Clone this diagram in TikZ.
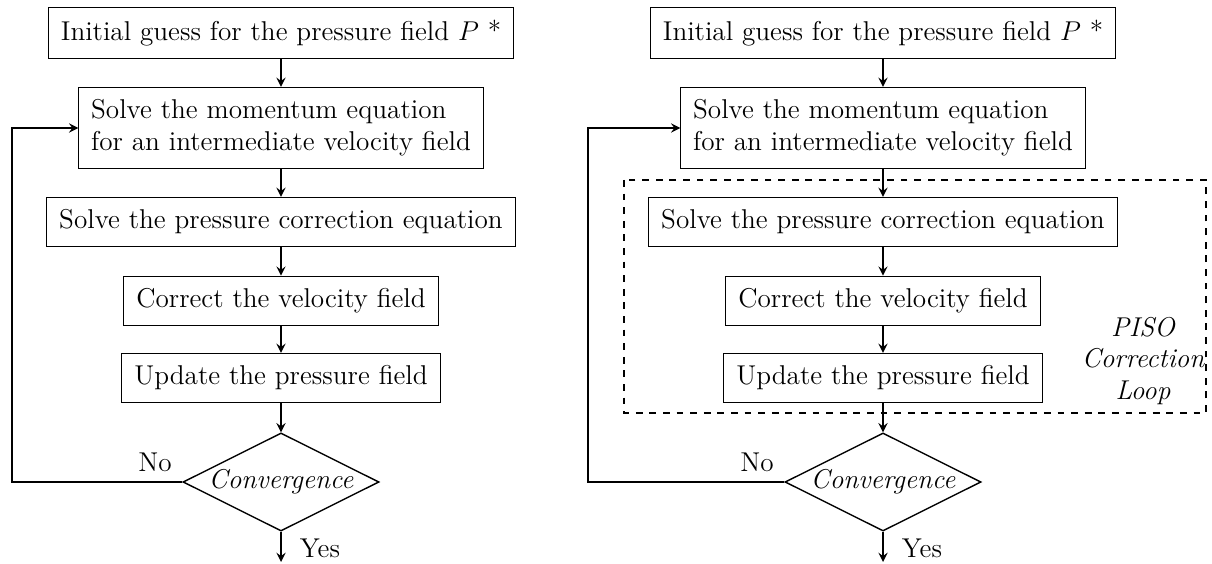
\documentclass[tikz,border=0pt]{standalone}
\usepackage{amsmath}
\usepackage{amssymb}
\usepackage{tikz}
\usetikzlibrary{shapes.geometric}

\begin{document}
\begin{tikzpicture}[x=0.0155cm, y=-0.0155cm, >=stealth, font=\large,
		box/.style={draw, inner sep=5.5pt},
		decision/.style={diamond, draw, semithick, aspect=2, minimum width=3.04cm, minimum height=1.52cm, inner sep=0pt, font=\large\itshape},
		flow/.style={->, thick}]
			\useasboundingbox (0, 0) rectangle (1212, 564);

			% SIMPLE (trái)
			\node[box] (init1) at (281, 33) {Initial guess for the pressure field $P$ *};
			\node[box, align=left] (mom1) at (281, 128) {Solve the momentum equation\\for an intermediate velocity field};
			\node[box] (pcor1) at (281, 222) {Solve the pressure correction equation};
			\node[box] (vel1) at (281, 301) {Correct the velocity field};
			\node[box] (upd1) at (281, 378) {Update the pressure field};
			\node[decision] (conv1) at (281, 482) {Convergence};
			\coordinate (end1) at (281, 562);
			\coordinate (loop1) at (12, 482);
			\node (no1) at (155, 462) {No};
			\node (yes1) at (320, 548) {Yes};

			\draw[flow] (init1) -- (mom1);
			\draw[flow] (mom1) -- (pcor1);
			\draw[flow] (pcor1) -- (vel1);
			\draw[flow] (vel1) -- (upd1);
			\draw[flow] (upd1) -- (conv1);
			\draw[flow] (conv1) -- (end1);
			\draw[flow] (conv1.west) -- (loop1) |- (mom1.west);

			% PISO (phải)
			\node[box] (init2) at (883, 33) {Initial guess for the pressure field $P$ *};
			\node[box, align=left] (mom2) at (883, 128) {Solve the momentum equation\\for an intermediate velocity field};
			\node[box] (pcor2) at (883, 222) {Solve the pressure correction equation};
			\node[box] (vel2) at (883, 301) {Correct the velocity field};
			\node[box] (upd2) at (883, 378) {Update the pressure field};
			\node[decision] (conv2) at (883, 482) {Convergence};
			\coordinate (end2) at (883, 562);
			\coordinate (loop2) at (588, 482);
			\node (no2) at (757, 462) {No};
			\node (yes2) at (922, 548) {Yes};

			% Vòng hiệu chỉnh PISO
			\draw[thick, dashed] (624, 180) rectangle (1206, 413);
			\node[align=center, font=\large\itshape] (piso) at (1143, 361) {PISO\\Correction\\Loop};

			\draw[flow] (init2) -- (mom2);
			\draw[flow] (mom2) -- (pcor2);
			\draw[flow] (pcor2) -- (vel2);
			\draw[flow] (vel2) -- (upd2);
			\draw[flow] (upd2) -- (conv2);
			\draw[flow] (conv2) -- (end2);
			\draw[flow] (conv2.west) -- (loop2) |- (mom2.west);
		\end{tikzpicture}
\end{document}
